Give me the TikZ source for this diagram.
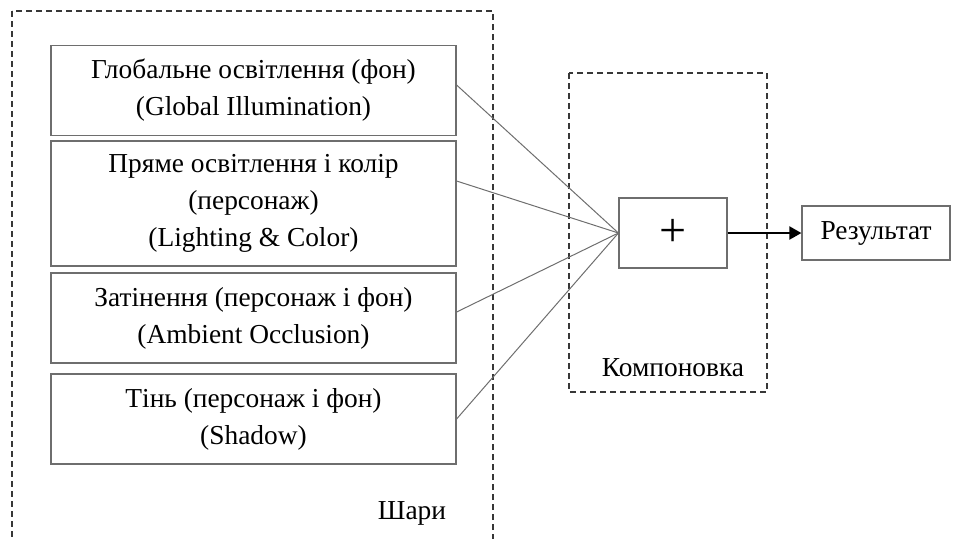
\documentclass[tikz,border=0pt]{standalone}
\usepackage{fontspec}
\setmainfont{Liberation Serif}
\usepackage{tikz}
\usetikzlibrary{positioning,arrows.meta,calc}
\definecolor{siryi}{RGB}{110,110,110}
\definecolor{temnyi}{RGB}{55,55,55}

\begin{document}
\begin{tikzpicture}[x=0.5pt, y=-0.5pt,
  shar/.style={rectangle, draw=siryi, line width=0.6pt, minimum width=202.5pt, minimum height=45pt, align=center, inner sep=0pt, font=\fontsize{13.7}{18.5}\selectfont},
  ramka/.style={draw=temnyi, densely dashed, line width=0.6pt},
  zv/.style={draw=siryi, line width=0.5pt},
  napys/.style={font=\fontsize{13.7}{18}\selectfont}
]
\clip (0,0) rectangle (957,538);
% ШАРИ
\draw[ramka] (12,11) rectangle (493,560);
\node[shar] (glob) at (253.5,90.5) {\raisebox{-1.5pt}{Глобальне освітлення (фон)}\\\raisebox{-1.5pt}{(Global Illumination)}};
\node[shar, minimum height=62.5pt] (pryame) at (253.5,203.5) {Пряме освітлення і колір\\(персонаж)\\(Lighting \& Color)};
\node[shar] (zatin) at (253.5,318) {Затінення (персонаж і фон)\\(Ambient Occlusion)};
\node[shar] (tin) at (253.5,419) {Тінь (персонаж і фон)\\(Shadow)};
\node[napys] (shary) at (412,513) {Шари};
% КОМПОНОВКА
\draw[ramka] (569,73) rectangle (767,392);
\node[shar, minimum width=54pt, minimum height=35pt, font=\fontsize{24}{26}\selectfont] (plus) at (673,233) {\raisebox{-1pt}{+}};
\node[napys] (kompon) at (673,368) {Компоновка};
\node[shar, minimum width=74pt, minimum height=27pt] (rez) at (876,233) {\raisebox{-1pt}{Результат}};
% лінії
\draw[zv] ($(glob.east)+(0,-5.5)$) -- (plus.west);
\draw[zv] ($(pryame.east)+(0,-22.5)$) -- (plus.west);
\draw[zv] ($(zatin.east)+(0,-6)$) -- (plus.west);
\draw[zv] (tin.east) -- (plus.west);
\draw[-{Triangle[length=6pt,width=6.5pt]}, line width=1pt] (plus.east) -- (rez.west);
\end{tikzpicture}
\end{document}
